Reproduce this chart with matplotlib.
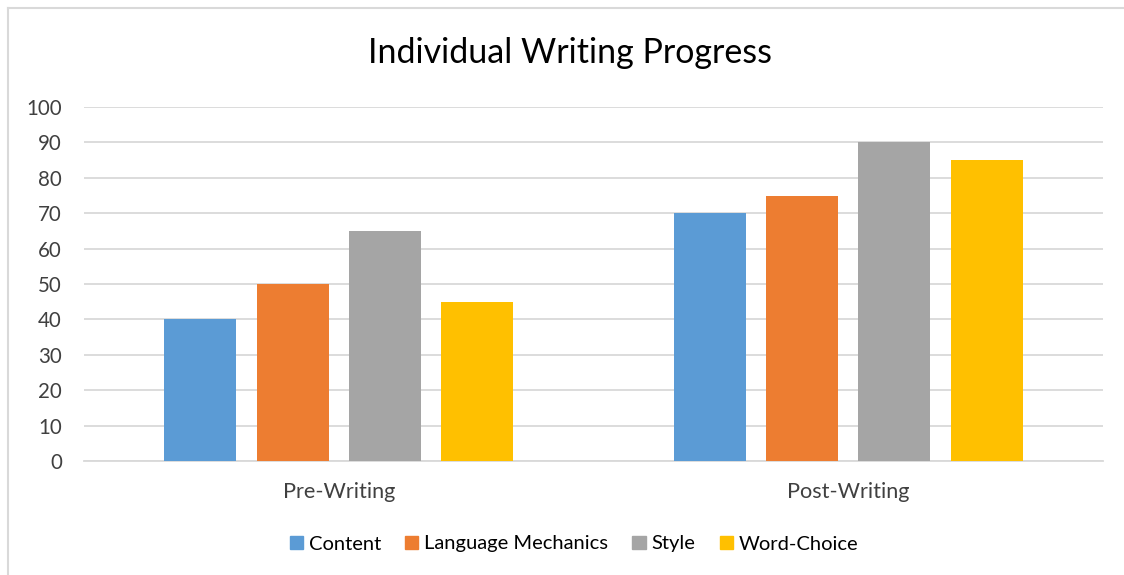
import matplotlib.pyplot as plt
import numpy as np
from matplotlib.patches import Rectangle
from matplotlib.lines import Line2D

categories = ["Pre-Writing", "Post-Writing"]
series_names = ["Content", "Language Mechanics", "Style", "Word-Choice"]
content = [40, 70]
language_mechanics = [50, 75]
style = [65, 90]
word_choice = [45, 85]
yticks = [0, 10, 20, 30, 40, 50, 60, 70, 80, 90, 100]

series = [content, language_mechanics, style, word_choice]
colors = ["#5b9bd5", "#ed7d31", "#a5a5a5", "#ffc000"]

plt.rcParams['font.family'] = ['Lato', 'DejaVu Sans']

W, H = 1124, 575
fig = plt.figure(figsize=(W / 100, H / 100), dpi=100)

# chart frame (top and left edges visible)
fig.add_artist(Line2D([8 / W, 8 / W], [0, 1 - 7.5 / H], transform=fig.transFigure,
                      color="#d9d9d9", lw=1.5))
fig.add_artist(Line2D([8 / W, 1], [1 - 7.5 / H, 1 - 7.5 / H], transform=fig.transFigure,
                      color="#d9d9d9", lw=1.5))

ax = fig.add_axes([84 / W, 1 - 461 / H, (1103 - 84) / W, (461 - 107) / H])

x = np.arange(len(categories))
bar_w = 0.1413
step = 0.181
offsets = (np.arange(len(series)) - 1.5) * step
for vals, name, col, off in zip(series, series_names, colors, offsets):
    ax.bar(x + off, vals, width=bar_w, color=col, label=name, zorder=3)

ax.set_xlim(-0.5, 1.5)
ax.set_ylim(0, 100)
ax.set_yticks(yticks)
ax.set_yticklabels([str(t) for t in yticks], fontsize=14.8, color="#404040")
ax.set_xticks(x)
ax.set_xticklabels(categories, fontsize=15.6, color="#404040")
ax.tick_params(axis="both", length=0)
ax.tick_params(axis="y", pad=16)
ax.tick_params(axis="x", pad=15)
ax.yaxis.grid(True, color="#d9d9d9", lw=1.3, zorder=0)
for s in ["top", "right", "left"]:
    ax.spines[s].set_visible(False)
ax.spines["bottom"].set_color("#d9d9d9")
ax.spines["bottom"].set_linewidth(1.3)

fig.text(570 / W, 1 - 53 / H, "Individual Writing Progress", ha="center", va="center",
         fontsize=24.5, color="#000000")

handles = [Rectangle((0, 0), 1, 1, color=c) for c in colors]
fig.legend(handles, series_names, loc="center", bbox_to_anchor=(574 / W, 1 - 544 / H),
           ncol=4, frameon=False, fontsize=14.5, handlelength=0.65, handleheight=0.65,
           handletextpad=0.3, columnspacing=1.2)

fig.savefig("out.png", dpi=100, facecolor="white")
